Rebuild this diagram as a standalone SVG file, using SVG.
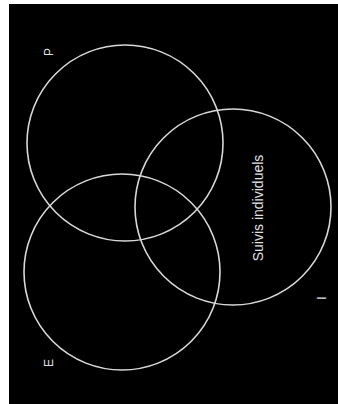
<svg xmlns="http://www.w3.org/2000/svg" width="338" height="404" viewBox="0 0 338 404">
<style>
.c{fill:none;stroke:#d8d8d8;stroke-width:1.6}
.t{fill:#e0e0e0;font-family:"Liberation Sans",Arial,sans-serif;font-size:12px}
.s{font-size:14px}
</style>
<rect x="0" y="0" width="338" height="404" fill="#fff"/>
<rect x="9" y="4" width="329" height="400" fill="#000"/>
<g id="P"><circle class="c" cx="125" cy="143" r="98"/><text class="t" transform="translate(53,52) rotate(-90)" text-anchor="middle">P</text></g>
<g id="E"><circle class="c" cx="122" cy="272" r="98"/><text class="t" transform="translate(53,363) rotate(-90)" text-anchor="middle">E</text></g>
<g id="I"><circle class="c" cx="233" cy="207" r="98"/><text class="t" transform="translate(326,298) rotate(-90)" text-anchor="middle">I</text><text class="t s" transform="translate(263,208) rotate(-90)" text-anchor="middle">Suivis individuels</text></g>
<g id="connectors"/>
</svg>
